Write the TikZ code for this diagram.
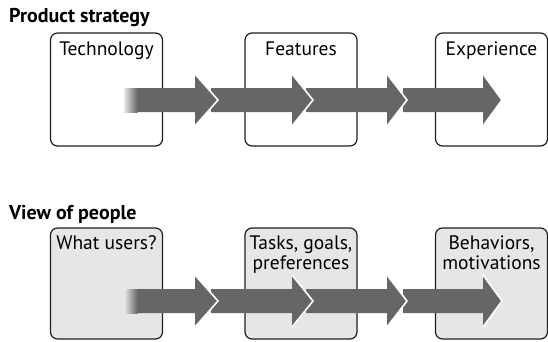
\documentclass[tikz,border=0pt]{standalone}
\usepackage{fontspec}
\setmainfont{PT Sans}
\definecolor{arrowgray}{HTML}{666666}
\definecolor{boxfill}{HTML}{E6E6E6}
\definecolor{boxline}{HTML}{1E1E1E}
\tikzset{
  stagebox/.style={draw=boxline, line width=1.2pt, rounded corners=7pt,
    minimum width=112pt, minimum height=113pt, inner sep=0pt},
  peoplebox/.style={stagebox, fill=boxfill, minimum height=111pt},
  stagelabel/.style={anchor=north, inner sep=0pt, align=center,
    font=\fontsize{19.5}{19.5}\selectfont},
  titletext/.style={anchor=base west, inner sep=0pt,
    font=\bfseries\fontsize{20}{22}\selectfont},
  arrowfill/.style={fill=arrowgray},
  tipline/.style={draw=white, line width=1.6pt, line join=miter}
}
\newcommand\flowarrow[4]{%
  \fill[arrowfill] (#1,#4-12) -- (#2,#4-12) -- (#2,#4-26) -- (#3,#4)
    -- (#2,#4+26) -- (#2,#4+12) -- (#1,#4+12) -- cycle;
  \draw[tipline] (#2,#4-26) -- (#3,#4) -- (#2,#4+26);}
\begin{document}
\begin{tikzpicture}[x=1pt,y=-1pt]
\useasboundingbox (0,0) rectangle (548,341);
% top row
\node[titletext] (t1) at (9,22) {Product strategy};
\node[stagebox] (a1) at (106.5,89.5) {};
\node[stagebox] (a2) at (301,89.5) {};
\node[stagebox] (a3) at (491.5,89.5) {};
\node[stagelabel] (la1) at ([yshift=-9.5pt]a1.north) {Technology};
\node[stagelabel] (la2) at ([yshift=-9.5pt]a2.north) {Features};
\node[stagelabel] (la3) at ([yshift=-9.5pt]a3.north) {Experience};
\flowarrow{403}{483}{502}{100}
\flowarrow{306}{387}{407}{100}
\flowarrow{211}{292}{313}{100}
\flowarrow{137}{195}{218}{100}
\shade[left color=white!85!arrowgray, right color=arrowgray] (124,88) rectangle (137.5,112);
% bottom row
\node[titletext] (t2) at (9,219) {View of people};
\node[peoplebox] (b1) at (106.5,283.5) {};
\node[peoplebox] (b2) at (301,283.5) {};
\node[peoplebox] (b3) at (491.5,283.5) {};
\node[stagelabel] (lb1) at ([yshift=-8.5pt]b1.north) {What users?};
\node[stagelabel] (lb2) at ([yshift=-8.5pt]b2.north) {Tasks, goals,\\preferences};
\node[stagelabel] (lb3) at ([yshift=-8.5pt]b3.north) {Behaviors,\\motivations};
\flowarrow{403}{483}{502}{301}
\flowarrow{306}{387}{407}{301}
\flowarrow{211}{292}{313}{301}
\flowarrow{137}{195}{218}{301}
\shade[left color=white!85!arrowgray, right color=arrowgray] (124,289) rectangle (137.5,313);
\end{tikzpicture}
\end{document}
